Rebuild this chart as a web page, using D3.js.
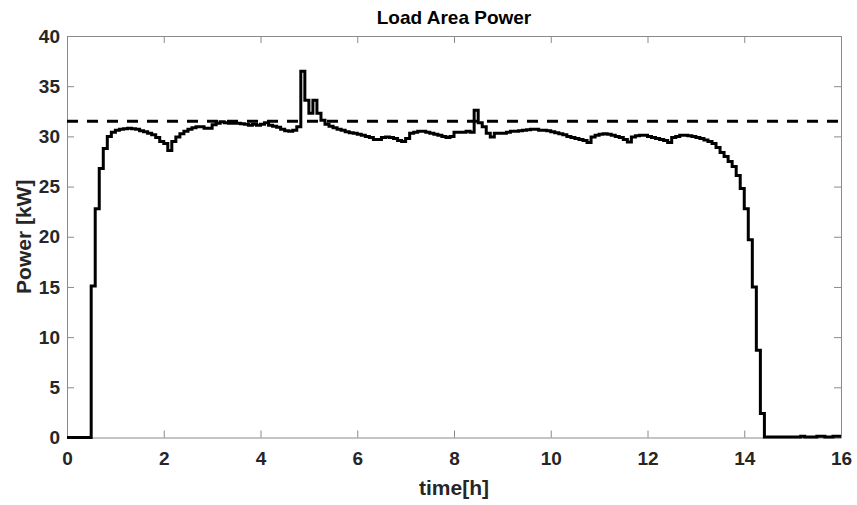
<!DOCTYPE html>
<html>
<head>
<meta charset="utf-8">
<script src="https://cdn.jsdelivr.net/npm/d3@7"></script>
<style>
  body { margin: 0; background: #fff; }
  text { font-family: "Liberation Sans", Arial, sans-serif; }
</style>
</head>
<body>
<div id="chart"></div>
<script>
// Load area power, 5-minute steps (kW)
const stepHours = 1 / 12;
const powerValues = [
  0, 0, 0, 0, 0, 0, 15.1, 22.8, 26.8, 28.8, 30.0, 30.4,
  30.6, 30.7, 30.75, 30.8, 30.75, 30.7, 30.55, 30.45, 30.3, 30.15, 29.9, 29.5,
  29.3, 28.6, 29.5, 29.95, 30.25, 30.5, 30.7, 30.85, 30.95, 30.95, 30.8, 30.8,
  31.15, 31.3, 31.45, 31.35, 31.3, 31.3, 31.3, 31.25, 31.2, 31.1, 31.2, 31.1,
  31.2, 31.35, 31.1, 31.0, 30.9, 30.7, 30.55, 30.5, 30.6, 30.95, 36.5, 33.6,
  32.3, 33.6, 32.3, 31.6, 31.2, 31.0, 30.85, 30.7, 30.6, 30.45, 30.35, 30.3,
  30.2, 30.1, 30.0, 29.9, 29.7, 29.7, 29.9, 29.95, 29.9, 29.8, 29.6, 29.5,
  29.8, 30.3, 30.4, 30.5, 30.5, 30.4, 30.3, 30.2, 30.1, 30.0, 29.9, 30.0,
  30.4, 30.4, 30.4, 30.5, 30.4, 32.6, 31.35, 30.95, 30.3, 29.95, 30.3, 30.3,
  30.3, 30.4, 30.5, 30.5, 30.55, 30.6, 30.65, 30.7, 30.7, 30.6, 30.6, 30.55,
  30.45, 30.35, 30.25, 30.15, 30.0, 29.9, 29.8, 29.7, 29.6, 29.4, 29.95, 30.1,
  30.2, 30.25, 30.2, 30.1, 30.0, 29.9, 29.7, 29.45, 29.95, 30.05, 30.1, 30.1,
  30.0, 29.9, 29.8, 29.7, 29.6, 29.4, 29.9, 30.0, 30.1, 30.1, 30.05, 30.0,
  29.9, 29.8, 29.65, 29.5, 29.3, 28.9, 28.4, 28.0, 27.5, 27.0, 26.1, 24.8,
  22.8, 19.7, 15.0, 8.7, 2.4, 0.05, 0.05, 0.05, 0.05, 0.05, 0.05, 0.05,
  0.05, 0.05, 0.12, 0.05, 0.05, 0.05, 0.12, 0.12, 0.05, 0.05, 0.12, 0.12
];
const powerLimit = 31.5;

const xTicks = [0, 2, 4, 6, 8, 10, 12, 14, 16];
const yTicks = [0, 5, 10, 15, 20, 25, 30, 35, 40];

const titleText = "Load Area Power";
const xLabel = "time[h]";
const yLabel = "Power [kW]";

const width = 857, height = 505;
const margin = { top: 36, right: 16, bottom: 67.5, left: 67 };
const plotW = width - margin.left - margin.right;
const plotH = height - margin.top - margin.bottom;

const svg = d3.select("#chart").append("svg")
  .attr("width", width)
  .attr("height", height);

const g = svg.append("g")
  .attr("transform", `translate(${margin.left},${margin.top})`);

const x = d3.scaleLinear().domain([0, 16]).range([0, plotW]);
const y = d3.scaleLinear().domain([0, 40]).range([plotH, 0]);

const axisColor = "#8a8a8a";
const labelColor = "#262626";

function styleAxis(sel) {
  sel.select(".domain").attr("stroke", axisColor).attr("stroke-width", 1);
  sel.selectAll(".tick line").attr("stroke", axisColor);
  sel.selectAll(".tick text")
    .attr("fill", labelColor)
    .style("font-size", "19px")
    .style("font-weight", "bold");
}

// bottom / top
g.append("g")
  .attr("transform", `translate(0,${plotH})`)
  .call(d3.axisBottom(x).tickValues(xTicks).tickSizeInner(-7).tickSizeOuter(0).tickPadding(14))
  .call(styleAxis);
g.append("g")
  .call(d3.axisTop(x).tickValues(xTicks).tickSizeInner(-7).tickSizeOuter(0).tickFormat(""))
  .call(styleAxis);

// left / right
g.append("g")
  .call(d3.axisLeft(y).tickValues(yTicks).tickSizeInner(-7).tickSizeOuter(0).tickPadding(7))
  .call(styleAxis);
g.append("g")
  .attr("transform", `translate(${plotW},0)`)
  .call(d3.axisRight(y).tickValues(yTicks).tickSizeInner(-7).tickSizeOuter(0).tickFormat(""))
  .call(styleAxis);

// limit line
g.append("line")
  .attr("x1", x(0)).attr("x2", x(16))
  .attr("y1", y(powerLimit)).attr("y2", y(powerLimit))
  .attr("stroke", "#000")
  .attr("stroke-width", 3)
  .attr("stroke-dasharray", "11,9");

// stairs
const points = powerValues.map((v, i) => [i * stepHours, v]);
points.push([16, powerValues[powerValues.length - 1]]);

const line = d3.line()
  .x(d => x(d[0]))
  .y(d => y(d[1]))
  .curve(d3.curveStepAfter);

g.append("path")
  .datum(points)
  .attr("fill", "none")
  .attr("stroke", "#000")
  .attr("stroke-width", 3)
  .attr("stroke-linejoin", "miter")
  .attr("d", line);

// title & labels
svg.append("text")
  .attr("x", margin.left + plotW / 2)
  .attr("y", 24)
  .attr("text-anchor", "middle")
  .attr("fill", "#000")
  .style("font-size", "19px")
  .style("font-weight", "bold")
  .text(titleText);

svg.append("text")
  .attr("x", margin.left + plotW / 2)
  .attr("y", 495)
  .attr("text-anchor", "middle")
  .attr("fill", labelColor)
  .style("font-size", "21px")
  .style("font-weight", "bold")
  .text(xLabel);

svg.append("text")
  .attr("transform", `translate(31,${margin.top + plotH / 2}) rotate(-90)`)
  .attr("text-anchor", "middle")
  .attr("fill", labelColor)
  .style("font-size", "21px")
  .style("font-weight", "bold")
  .text(yLabel);
</script>
</body>
</html>
